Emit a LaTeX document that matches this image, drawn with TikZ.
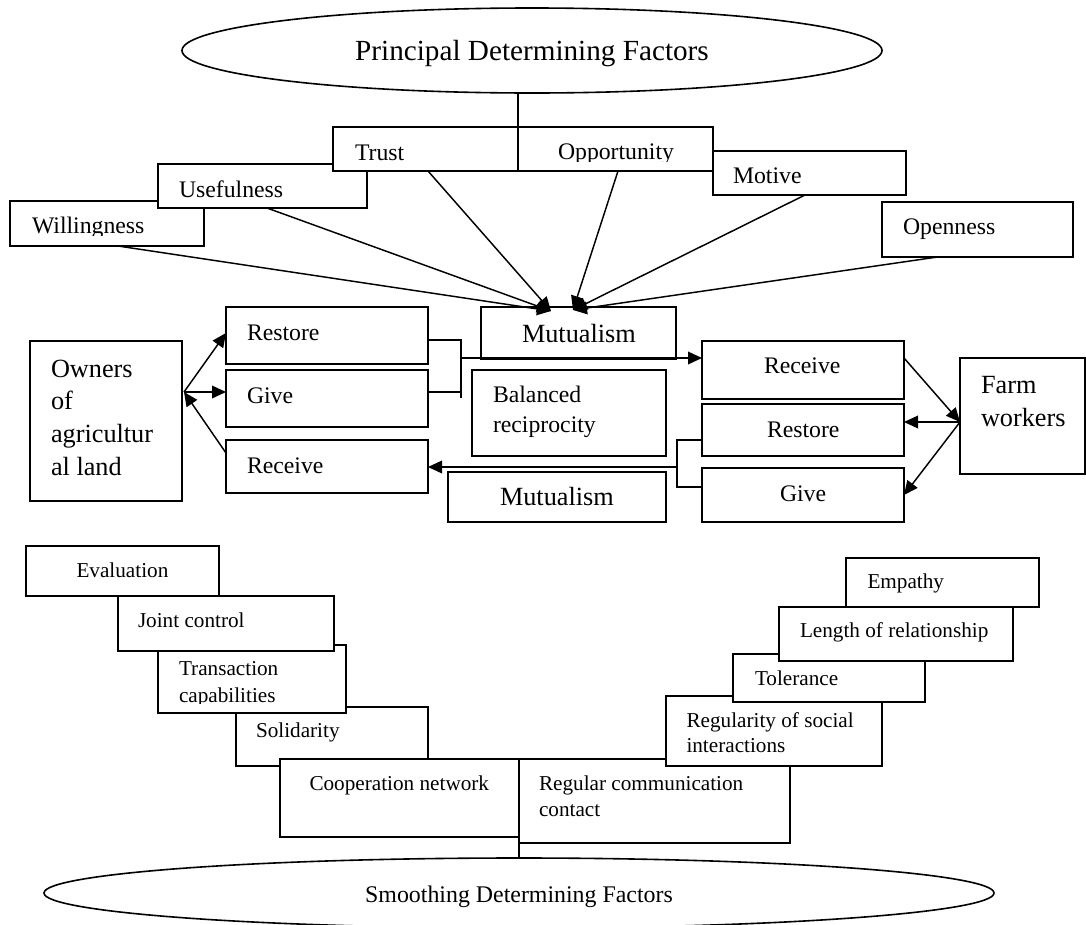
\documentclass[tikz,border=0pt]{standalone}
\usepackage{fontspec}
\setmainfont{Liberation Serif}
\usetikzlibrary{arrows.meta,shapes.geometric,calc}
\newcommand{\fsz}[2]{\fontsize{#1pt}{#2pt}\selectfont}
\newcommand{\mkbox}[5]{\node[bx, minimum width={(#4-#2)*0.75pt}, minimum height={(#5-#3)*0.75pt}] (#1) at (#2,#3) {};}
\begin{document}
\begin{tikzpicture}[x=0.75pt,y=-0.75pt,
  bx/.style={draw, fill=white, line width=1.2pt, inner sep=0pt, outer sep=0pt, anchor=north west},
  txt/.style={anchor=base west, inner sep=0pt, outer sep=0pt, align=flush left},
  big/.style={font=\fsz{19.7}{24.6}},
  mid/.style={font=\fsz{17.8}{22.5}},
  sml/.style={font=\fsz{15.9}{19.9}},
  conn/.style={line width=1.1pt},
  arr/.style={conn, -{Triangle[length=10.5pt,width=9.5pt]}},
  ell/.style={draw, ellipse, fill=white, line width=1.2pt, inner sep=0pt}]
\fill[white] (0,0) rectangle (1086,925);
\useasboundingbox (0,0) rectangle (1086,925);

% ---------- top: principal factors ----------
\node[ell, minimum width=525pt, minimum height=63.75pt] (pdf) at (532,50.5) {};
\node[anchor=base, inner sep=0pt, font=\fsz{21.9}{26}] (t-pdf) at (532,60) {Principal Determining Factors};

\mkbox{will}{10}{201}{204}{246}
\begin{scope}
  \clip (10,201) rectangle (204,235);
  \node[txt,mid] (t-will) at (32,233) {Willingness};
\end{scope}
\mkbox{use}{158}{164}{367}{208}
\node[txt,mid] (t-use) at (179,197) {Usefulness};
\mkbox{trust}{333}{127}{518}{171}
\node[txt,mid] (t-trust) at (355,160) {Trust};
\mkbox{opp}{518}{127}{713}{171}
\begin{scope}
  \clip (518,127) rectangle (713,161);
  \node[txt,mid] (t-opp) at (558,159) {Opportunity};
\end{scope}
\mkbox{mot}{713}{151}{906}{195}
\node[txt,mid] (t-mot) at (733,183) {Motive};
\mkbox{open}{882}{202}{1073}{257}
\node[txt,mid] (t-open) at (903,234) {Openness};

\draw[conn] (opp.north west |- pdf.south) -- (opp.north west);

% ---------- middle ----------
\mkbox{own}{30}{341}{182}{501}
\node[txt, text width=140pt, font=\fsz{19.7}{24.5}] (t-own) at (51,377) {Owners\\of\\agricultur\\al land};

\mkbox{rest1}{226}{307}{428}{364}
\node[txt,mid] (t-rest1) at (247,340) {Restore};
\mkbox{give1}{226}{370}{428}{427}
\node[txt,mid] (t-give1) at (247,403) {Give};
\mkbox{rec1}{226}{440}{428}{493}
\node[txt,mid] (t-rec1) at (247,473) {Receive};

\mkbox{mut1}{481}{307}{676}{359}
\node[txt,big] (t-mut1) at (522,342) {Mutualism};
\mkbox{bal}{472}{370}{666}{456}
\node[txt, text width=140pt, font=\fsz{17.8}{22.5}] (t-bal) at (493,402) {Balanced\\reciprocity};
\mkbox{mut2}{448}{472}{666}{522}
\node[txt,big] (t-mut2) at (500,505) {Mutualism};

\mkbox{rec2}{702}{341}{904}{399}
\node[txt,mid] (t-rec2) at (764,373) {Receive};
\mkbox{rest2}{702}{404}{904}{456}
\node[txt,mid] (t-rest2) at (767,437) {Restore};
\mkbox{give2}{702}{468}{904}{522}
\node[txt,mid] (t-give2) at (780,501) {Give};

\mkbox{farm}{960}{358}{1085}{474}
\node[txt, text width=100pt, font=\fsz{19.7}{24.75}] (t-farm) at (981,393) {Farm\\workers};

% top arrows into Mutualism
\coordinate (tipL) at ($(mut1.north)+(-27.5,4)$);
\coordinate (tipR) at ($(mut1.north)+(-5.5,3)$);
\draw[arr] ($(will.south)+(11,0)$) -- (tipL);
\draw[arr] ($(use.south)+(4.5,0)$) -- (tipL);
\draw[arr] ($(trust.south)+(2.5,0)$) -- (tipL);
\draw[arr] ($(opp.south)+(2.5,0)$) -- (tipR);
\draw[arr] ($(mot.south)+(-4.5,0)$) -- (tipR);
\draw[arr] ($(open.south)+(-40,0)$) -- (tipR);

% owners side
\coordinate (ohub) at ($(own.north east)+(2,51)$);
\draw[arr] (ohub) -- ($(rest1.north west)+(0,26)$);
\draw[arr] (ohub) -- (ohub -| give1.west);
\draw[arr] ($(rec1.north west)+(0,13)$) -- (ohub);

% left bracket to Receive (right)
\coordinate (jL1) at (461,340);
\coordinate (jLg) at (461,392);
\coordinate (jL2) at (461,398);
\coordinate (jL) at (461,358);
\draw[conn] (jL1 -| rest1.east) -- (jL1) -- (jL2);
\draw[conn] (jLg -| give1.east) -- (jLg);
\draw[arr] (jL) -- (jL -| rec2.west);

% right bracket to Receive (left)
\coordinate (jR1) at (677,440);
\coordinate (jR2) at (677,487);
\coordinate (jR) at (677,467);
\draw[conn] (jR1 -| rest2.west) -- (jR1) -- (jR2) -- (jR2 -| give2.west);
\draw[arr] (jR) -- (jR -| rec1.east);

% farm workers side
\coordinate (fhub) at ($(farm.west)+(0,6)$);
\draw[arr] ($(rec2.north east)+(0,17)$) -- (fhub);
\draw[arr] (fhub) -- (fhub -| rest2.east);
\draw[arr] (fhub) -- (give2.east);

% ---------- bottom: smoothing factors ----------
\mkbox{sol}{236}{707}{428}{766}
\node[txt,sml] (t-sol) at (256,737) {Solidarity};
\mkbox{trans}{158}{645}{346}{713}
\begin{scope}
  \clip (158,645) rectangle (346,703);
  \node[txt, text width=150pt, font=\fsz{15.9}{20.25}] (t-trans) at (179,675) {Transaction\\capabilities};
\end{scope}
\mkbox{joint}{118}{596}{334}{651}
\node[txt,sml] (t-joint) at (138,627) {Joint control};
\mkbox{eval}{26}{546}{219}{596}
\node[txt,sml] (t-eval) at (76.5,577) {Evaluation};
\mkbox{coop}{280}{759}{519}{837}
\node[txt,sml] (t-coop) at (309.5,790) {Cooperation network};

\mkbox{regc}{519}{759}{790}{843}
\node[txt, text width=200pt, font=\fsz{15.9}{19.5}] (t-regc) at (539,790) {Regular communication\\contact};
\mkbox{regs}{666}{696}{882}{766}
\node[txt, text width=160pt, font=\fsz{15.9}{18.75}] (t-regs) at (686.5,727) {Regularity of social\\interactions};
\mkbox{tol}{733}{654}{925}{702}
\node[txt,sml] (t-tol) at (755,685) {Tolerance};
\mkbox{len}{779}{607}{1013}{661}
\node[txt,sml] (t-len) at (800,637) {Length of relationship};
\mkbox{emp}{846}{558}{1039}{607}
\node[txt,sml] (t-emp) at (867.5,588) {Empathy};

\node[ell, minimum width=712.5pt, minimum height=52.5pt] (sdf) at (519,893) {};
\node[anchor=base, inner sep=0pt, font=\fsz{17.9}{22}] (t-sdf) at (519,902) {Smoothing Determining Factors};
\draw[conn] (regc.south west) -- (regc.south west |- sdf.north);
\end{tikzpicture}
\end{document}
